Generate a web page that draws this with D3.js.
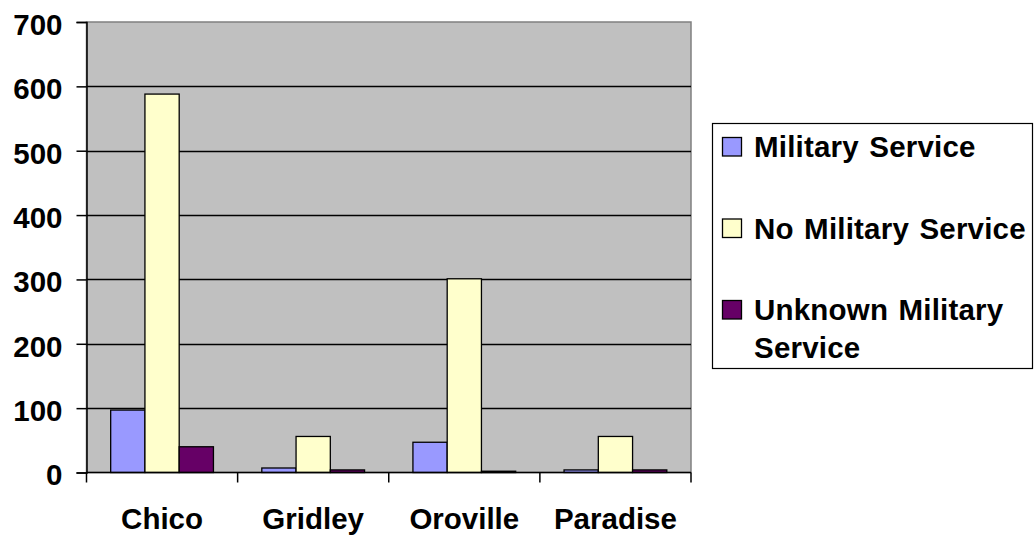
<!DOCTYPE html>
<html><head><meta charset="utf-8">
<script src="https://cdn.jsdelivr.net/npm/d3@7"></script>
<style>
html,body{margin:0;padding:0;background:#fff;}
svg{display:block;}
text{font-family:"Liberation Sans",Arial,sans-serif;font-weight:bold;fill:#000;}
</style></head>
<body>
<script>
const categories = ["Chico", "Gridley", "Oroville", "Paradise"];
const seriesNames = ["Military Service", "No Military Service", "Unknown Military Service"];
const military = [97, 7, 47, 4];
const noMilitary = [588, 56, 301, 56];
const unknownMilitary = [40, 4, 2, 4];
const yTicks = [0, 100, 200, 300, 400, 500, 600, 700];
const colors = ["#9999ff", "#ffffcc", "#660066"];

const seriesValues = [military, noMilitary, unknownMilitary];
const W = 1034, H = 535;
const plot = {left: 86.5, right: 691, top: 22, bottom: 472.5};
const fs = 29.5;
const FF = "'Liberation Sans', Arial, sans-serif";

const svg = d3.select("body").append("svg").attr("width", W).attr("height", H);

const x0 = d3.scaleBand().domain(categories).range([plot.left, plot.right])
  .paddingInner(0.32).paddingOuter(0.16);
const x1 = d3.scaleBand().domain(d3.range(seriesNames.length)).range([0, x0.bandwidth()]);
const y = d3.scaleLinear().domain([0, 700]).range([plot.bottom, plot.top]);

// plot background
svg.append("rect").attr("x", plot.left).attr("y", plot.top)
  .attr("width", plot.right - plot.left).attr("height", plot.bottom - plot.top)
  .attr("fill", "#c0c0c0").attr("stroke", "#808080").attr("stroke-width", 1.5);

// gridlines
svg.append("g").selectAll("line").data(yTicks.filter(d => d > 0 && d < 700)).join("line")
  .attr("x1", plot.left).attr("x2", plot.right)
  .attr("y1", d => Math.round(y(d)) + 0.5).attr("y2", d => Math.round(y(d)) + 0.5)
  .attr("stroke", "#000").attr("stroke-width", 1.3);

// bars
const groups = svg.append("g").selectAll("g").data(categories).join("g")
  .attr("transform", c => `translate(${x0(c)},0)`);
groups.selectAll("rect").data((c, i) => seriesValues.map((s, k) => ({k, v: s[i]}))).join("rect")
  .attr("x", d => x1(d.k)).attr("width", x1.bandwidth())
  .attr("y", d => y(d.v)).attr("height", d => y(0) - y(d.v))
  .attr("fill", d => colors[d.k]).attr("stroke", "#000").attr("stroke-width", 1.3);

// y axis
const yAxis = d3.axisLeft(y).tickValues(yTicks).tickSize(10).tickPadding(14);
const ga = svg.append("g").attr("transform", `translate(${plot.left},0)`).call(yAxis);
ga.attr("font-family", null).attr("font-size", null);
ga.select(".domain").attr("stroke", "#000").attr("stroke-width", 1.5);
ga.selectAll(".tick line").attr("stroke", "#000").attr("stroke-width", 1.5);
ga.selectAll("text").style("font-size", fs + "px").attr("dy", "0.42em")
  .style("font-family", FF).style("font-weight", "bold");

// x axis
const xb = d3.scaleLinear().domain([0, categories.length]).range([plot.left, plot.right]);
const gx = svg.append("g").attr("transform", `translate(0,${plot.bottom})`);
gx.append("line").attr("x1", plot.left).attr("x2", plot.right).attr("stroke", "#000").attr("stroke-width", 1.5);
gx.selectAll("line.t").data(d3.range(categories.length + 1)).join("line").attr("class", "t")
  .attr("x1", d => xb(d)).attr("x2", d => xb(d)).attr("y1", 0).attr("y2", 10)
  .attr("stroke", "#000").attr("stroke-width", 1.5);
gx.selectAll("text").data(categories).join("text")
  .attr("x", c => x0(c) + x0.bandwidth() / 2).attr("y", 56.5)
  .attr("text-anchor", "middle").style("font-size", fs + "px").style("font-family", FF).text(c => c);

// legend
const lg = svg.append("g");
lg.append("rect").attr("x", 712.5).attr("y", 123.5).attr("width", 320).attr("height", 245)
  .attr("fill", "#fff").attr("stroke", "#000").attr("stroke-width", 1.2);
const legendLines = [["Military Service"], ["No Military Service"], ["Unknown Military", "Service"]];
const legendBase = [157, 238.5, 320];
legendLines.forEach((lines, k) => {
  lg.append("rect").attr("x", 722.5).attr("y", legendBase[k] - 19.5).attr("width", 19).attr("height", 18.5)
    .attr("fill", colors[k]).attr("stroke", "#000").attr("stroke-width", 1.3);
  lines.forEach((t, j) => {
    lg.append("text").attr("x", 754).attr("y", legendBase[k] + j * 38)
      .style("font-size", fs + "px").style("font-family", FF)
      .style("word-spacing", "2px").style("letter-spacing", "0.2px").text(t);
  });
});
</script>
</body></html>
